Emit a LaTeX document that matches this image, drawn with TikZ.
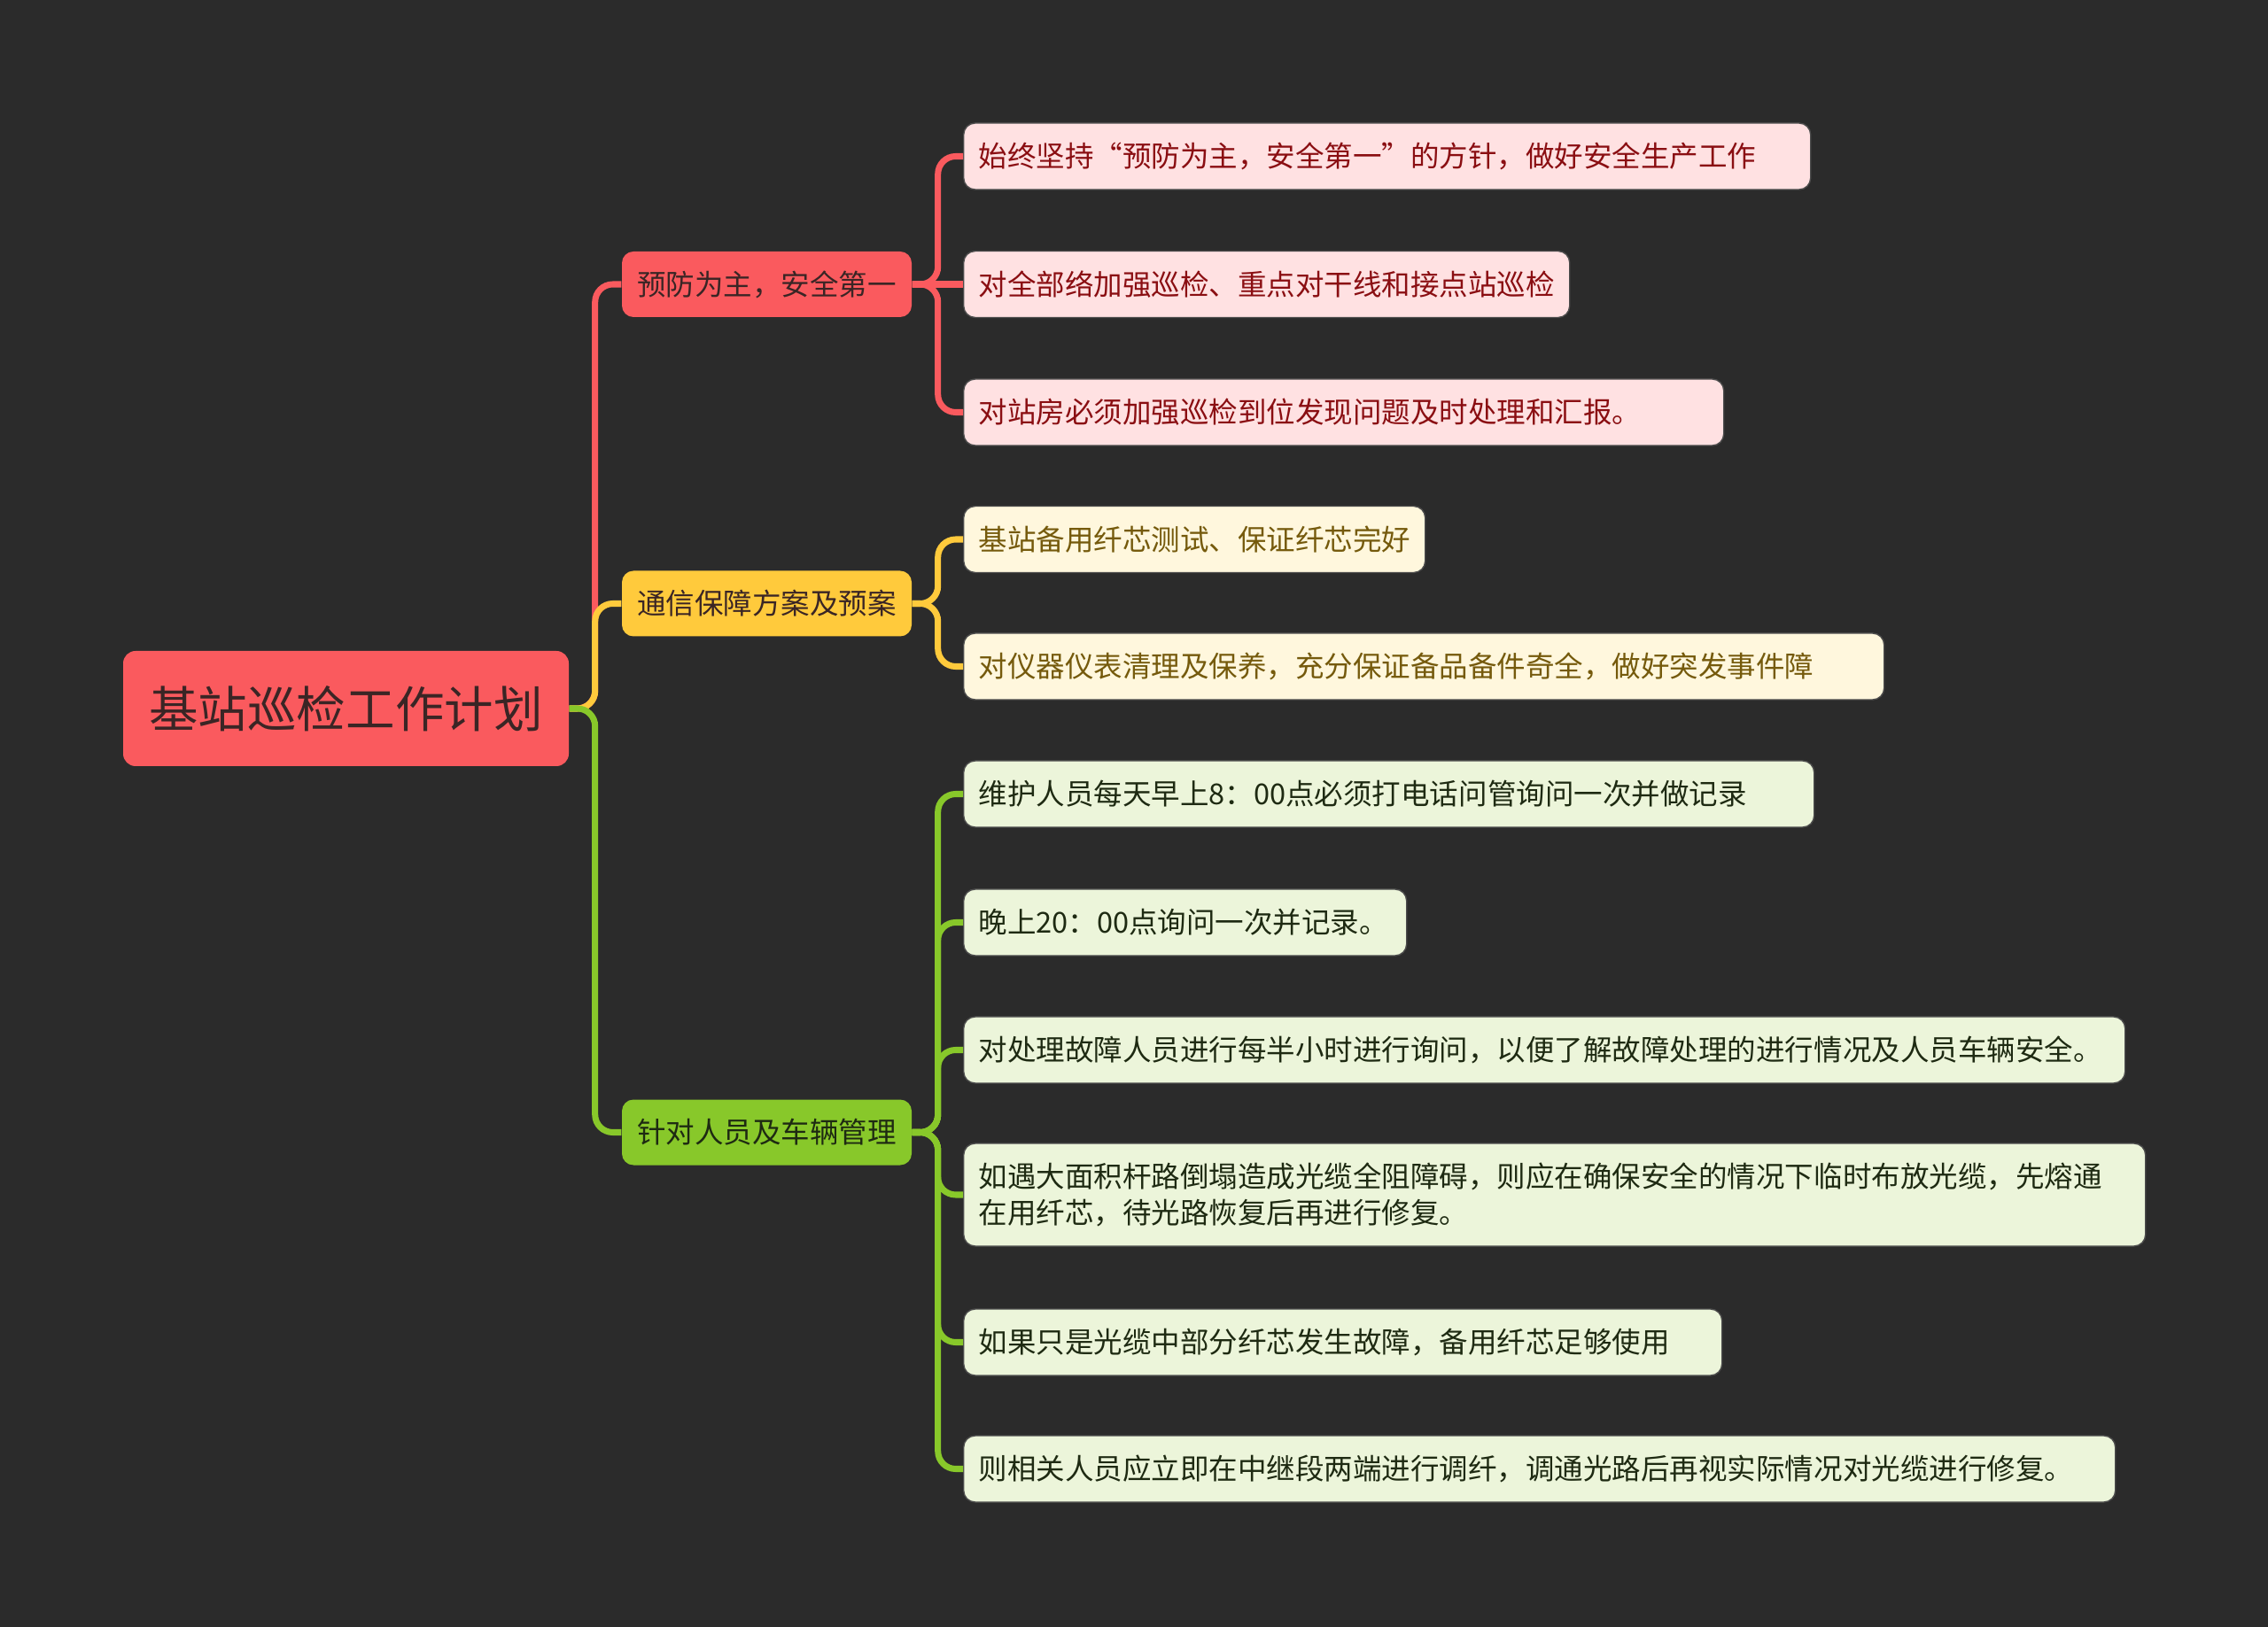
\documentclass[tikz,border=0pt]{standalone}
\usepackage{fontspec}
\newfontfamily\cjk{Noto Sans CJK SC}
\definecolor{bg}{HTML}{2B2B2B}
\definecolor{redm}{HTML}{FA5A5E}
\definecolor{yelm}{HTML}{FFCA3C}
\definecolor{grnm}{HTML}{88C82A}
\definecolor{redl}{HTML}{FFE1E2}
\definecolor{yell}{HTML}{FFF7DD}
\definecolor{grnl}{HTML}{ECF5DA}
\definecolor{redt}{HTML}{8A0E12}
\definecolor{yelt}{HTML}{755A0C}
\definecolor{grnt}{HTML}{1E2A12}
\definecolor{darkt}{HTML}{3A2525}
\tikzset{
  rootbox/.style={fill=redm, rounded corners=0.14cm, minimum width=5.03cm, minimum height=1.30cm, inner sep=0pt, font=\cjk\fontsize{15.8pt}{18pt}\selectfont, text=darkt},
  midbox/.style={rounded corners=0.13cm, minimum width=3.27cm, minimum height=0.74cm, inner sep=0pt, font=\cjk\fontsize{9.25pt}{11.6pt}\selectfont, text=darkt},
  leafbox/.style={anchor=west, rounded corners=0.13cm, minimum height=0.75cm, inner xsep=0.17cm, inner ysep=0pt, align=left, font=\cjk\fontsize{9.25pt}{11.6pt}\selectfont, draw=black!70, line width=0.4pt},
  redleaf/.style={leafbox, fill=redl, text=redt},
  yelleaf/.style={leafbox, fill=yell, text=yelt},
  grnleaf/.style={leafbox, fill=grnl, text=grnt},
  conn/.style={line width=2pt, rounded corners=0.2cm},
}
\begin{document}
\begin{tikzpicture}
\fill[bg] (0,0) rectangle (25.6,-18.37);
\useasboundingbox (0,0) rectangle (25.6,-18.37);

\node[rootbox] (root) at (3.905,-8.00) {基站巡检工作计划};
\node[midbox, fill=redm] (a) at (8.655,-3.21) {预防为主，安全第一};
\node[midbox, fill=yelm] (b) at (8.655,-6.815) {通信保障方案及预案};
\node[midbox, fill=grnm, text=grnt] (c) at (8.655,-12.785) {针对人员及车辆管理};

\node[redleaf, text width=9.22cm] (a1) at (10.87,-1.765) {始终坚持“预防为主，安全第一”的方针，做好安全生产工作};
\node[redleaf, text width=6.50cm] (a2) at (10.87,-3.21) {对全部络加强巡检、重点对干线和接点站巡检};
\node[redleaf, text width=8.24cm] (a3) at (10.87,-4.655) {对站房必须加强巡检到位发现问题及时处理和汇报。};

\node[yelleaf, text width=4.87cm] (b1) at (10.87,-6.09) {基站备用纤芯测试、保证纤芯完好};
\node[yelleaf, text width=10.05cm] (b2) at (10.87,-7.525) {对仪器仪表清理及保养，充分保证备品备件奇全，做好突发事件障};

\node[grnleaf, text width=9.26cm] (c1) at (10.87,-8.965) {维护人员每天早上8：00点必须打电话问管询问一次并做记录};
\node[grnleaf, text width=4.66cm] (c2) at (10.87,-10.415) {晚上20：00点询问一次并记录。};
\node[grnleaf, text width=12.77cm] (c3) at (10.87,-11.855) {对处理故障人员进行每半小时进行询问，以便了解故障处理的进行情况及人员车辆安全。};
\node[grnleaf, text width=13.00cm, minimum height=1.16cm] (c4) at (10.87,-13.49) {如遇大面积杆路倒塌造成光缆全阻障碍，则应在确保安全的情况下临时布放光缆，先熔通\\在用纤芯，待光路恢复后再进行修复。};
\node[grnleaf, text width=8.22cm] (c5) at (10.87,-15.155) {如果只是光缆中部分纤芯发生故障，备用纤芯足够使用};
\node[grnleaf, text width=12.66cm] (c6) at (10.87,-16.585) {则相关人员应立即在中继段两端进行调纤，调通光路后再视实际情况对光缆进行修复。};

% root connectors
\draw[conn, redm] (root.east) -- ++(0.29,0) |- (a.west);
\draw[conn, yelm] (root.east) -- ++(0.29,0) |- (b.west);
\draw[conn, grnm] (root.east) -- ++(0.29,0) |- (c.west);

% red branch
\draw[conn, redm] (a.east) -- ++(0.29,0) |- (a1.west);
\draw[conn, redm] (a.east) -- (a2.west);
\draw[conn, redm] (a.east) -- ++(0.29,0) |- (a3.west);

% yellow branch
\draw[conn, yelm] (b.east) -- ++(0.29,0) |- (b1.west);
\draw[conn, yelm] (b.east) -- ++(0.29,0) |- (b2.west);

% green branch
\foreach \n in {c1,c2,c3,c4,c5,c6}
  \draw[conn, grnm] (c.east) -- ++(0.29,0) |- (\n.west);
\end{tikzpicture}
\end{document}
